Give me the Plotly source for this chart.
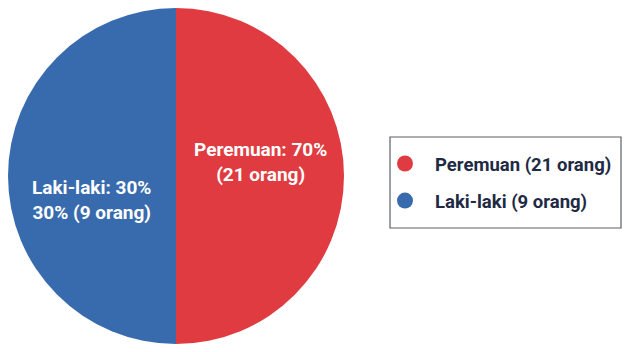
import plotly.graph_objects as go

# Data
categories = ["Peremuan", "Laki-laki"]
counts = [21, 9]                 # orang
percent_labels = [70, 30]        # % printed on the slices
slice_sizes = [50, 50]           # angular share as drawn in the picture
colors = ["#E03B40", "#386BAE"]

slice_text = [
    f"{categories[0]}: {percent_labels[0]}%<br>({counts[0]} orang)",
    f"{categories[1]}: {percent_labels[1]}%<br>{percent_labels[1]}% ({counts[1]} orang)",
]
legend_names = [f"{c} ({n} orang)" for c, n in zip(categories, counts)]

W, H = 628, 352
fig = go.Figure()
fig.add_trace(go.Pie(
    labels=categories,
    values=slice_sizes,
    textinfo="none",
    marker=dict(colors=colors, line=dict(width=0)),
    sort=False,
    direction="clockwise",
    rotation=0,
    showlegend=False,
    hoverinfo="skip",
    domain=dict(x=[8 / W, 344 / W], y=[1 - 344 / H, 1 - 8 / H]),
))

# slice labels
label_pos = [(260, 162), (91, 200)]
for txt, (px, py) in zip(slice_text, label_pos):
    fig.add_annotation(
        x=px / W, y=1 - py / H, xref="paper", yref="paper",
        text=txt, showarrow=False, align="center",
        xanchor="center", yanchor="middle",
        font=dict(family="Roboto", size=19, color="white", weight="bold"),
    )

for i, (name, col) in enumerate(zip(legend_names, colors)):
    fig.add_trace(go.Scatter(
        x=[None], y=[None], mode="markers", name=name, legendgroup=f"g{i}",
        marker=dict(symbol="circle", size=22, color=col),
    ))

# legend frame
fig.add_shape(type="rect", xref="paper", yref="paper",
              x0=390 / W, x1=621 / W, y0=1 - 228 / H, y1=1 - 137 / H,
              line=dict(color="#5a5f66", width=1.2), fillcolor="rgba(0,0,0,0)")

fig.update_layout(
    width=W, height=H,
    margin=dict(l=0, r=0, t=0, b=0),
    paper_bgcolor="white",
    plot_bgcolor="white",
    xaxis=dict(visible=False),
    yaxis=dict(visible=False),
    legend=dict(
        x=375 / W, y=1 - 145 / H, xanchor="left", yanchor="top",
        borderwidth=0, bgcolor="rgba(0,0,0,0)",
        font=dict(family="Roboto", size=18.5, color="#1E2A44", weight="bold"),
        itemsizing="trace", itemwidth=50,
        tracegroupgap=10,
    ),
)

fig.write_html("out.html")
